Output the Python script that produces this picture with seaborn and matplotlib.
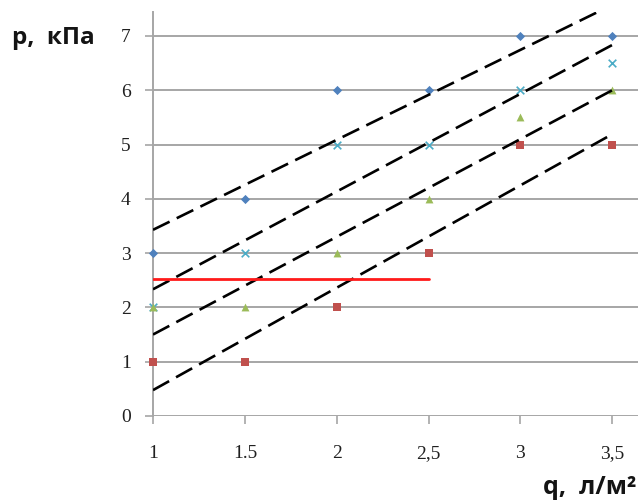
import pandas as pd
import matplotlib.pyplot as plt
import seaborn as sns

# данные (q, л/м² и давление p, кПа)
q = [1, 1.5, 2, 2.5, 3, 3.5]
p_blue = [3, 4, 6, 6, 7, 7]
p_cyan = [2, 3, 5, 5, 6, 6.5]
p_green = [2, 2, 3, 4, 5.5, 6]
p_red = [1, 1, 2, 3, 5, 5]
limit_q = [1, 2.5]
limit_p = [2.52, 2.52]
x_ticks = [1, 1.5, 2, 2.5, 3, 3.5]
x_tick_labels = ["1", "1.5", "2", "2,5", "3", "3,5"]
y_ticks = [0, 1, 2, 3, 4, 5, 6, 7]

series = [
    (p_blue, "#4F81BD", "D", 22),
    (p_cyan, "#4BACC6", "x", 30),
    (p_green, "#9BBB59", "^", 32),
    (p_red, "#C0504D", "s", 40),
]

sns.set_theme(style="white")

fig = plt.figure(figsize=(6.38, 5.01), dpi=100)
ax = fig.add_axes([0.2398, 0.1697, 0.7602, 0.8063])

grid_c = "#A6A6A6"
for yv in y_ticks:
    ax.axhline(yv, color=grid_c, lw=1.4, zorder=1)

for vals, col, mk, sz in series:
    df = pd.DataFrame({"q": q, "p": vals})
    sns.scatterplot(data=df, x="q", y="p", ax=ax, color=col, marker=mk,
                    s=sz, linewidth=1.2 if mk == "x" else 0,
                    zorder=3, clip_on=False)

# линейные тренды
for vals, col, mk, sz in series:
    df = pd.DataFrame({"q": q, "p": vals})
    sns.regplot(data=df, x="q", y="p", ax=ax, scatter=False, ci=None,
                truncate=True,
                line_kws=dict(color="black", lw=1.9, dashes=(7, 3), zorder=4))

ax.plot(limit_q, limit_p, color="#FF1A1A", lw=2, zorder=5)

ax.set_xlim(1, 3.64)
ax.set_ylim(0, 7.44)
ax.set_xticks(x_ticks)
ax.set_xticklabels(x_tick_labels)
ax.set_yticks(y_ticks)
ax.set_xlabel("")
ax.set_ylabel("")

for s in ["top", "right", "bottom"]:
    ax.spines[s].set_visible(False)
ax.spines["left"].set_color(grid_c)
ax.spines["left"].set_linewidth(1.4)

ax.tick_params(axis="x", direction="out", length=6, width=1.2, color=grid_c,
               pad=15, bottom=True)
ax.tick_params(axis="y", direction="out", length=6, width=1.2, color=grid_c,
               pad=10, left=True)
for lab in ax.get_xticklabels() + ax.get_yticklabels():
    lab.set_fontfamily("Liberation Serif")
    lab.set_fontsize(14)
    lab.set_color("#202020")

fig.text(0.019, 0.912, "p,  кПа", fontsize=17.5, fontweight="bold",
         family=["Open Sans", "DejaVu Sans"], color="#141414", va="baseline")
fig.text(0.997, 0.014, "q,  л/м²", fontsize=18, fontweight="bold",
         family=["Open Sans", "DejaVu Sans"], color="#141414", ha="right",
         va="baseline")

plt.savefig("out.png", dpi=100)
